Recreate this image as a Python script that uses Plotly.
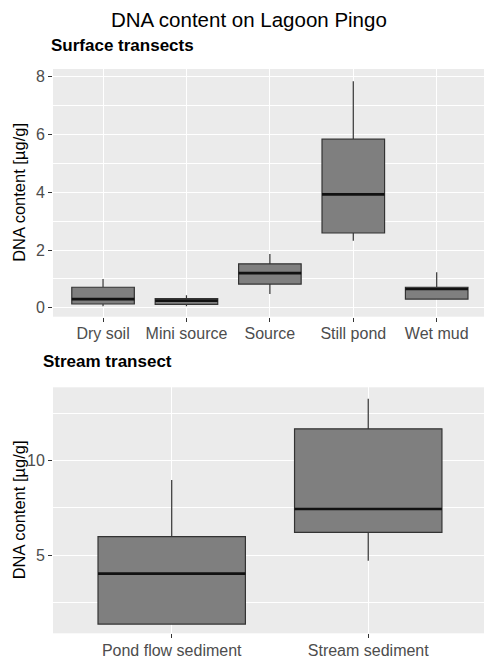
import plotly.graph_objects as go

# ---- data ----
surface_cats = ["Dry soil", "Mini source", "Source", "Still pond", "Wet mud"]
surface_lower = [0.05, 0.05, 0.48, 2.32, 0.30]
surface_q1 = [0.13, 0.12, 0.82, 2.59, 0.30]
surface_median = [0.30, 0.25, 1.20, 3.93, 0.65]
surface_q3 = [0.71, 0.32, 1.52, 5.84, 0.71]
surface_upper = [1.00, 0.43, 1.86, 7.85, 1.23]

stream_cats = ["Pond flow sediment", "Stream sediment"]
stream_lower = [1.34, 4.70]
stream_q1 = [1.34, 6.20]
stream_median = [4.01, 7.44]
stream_q3 = [5.97, 11.69]
stream_upper = [8.97, 13.28]

top_ticks = [0, 2, 4, 6, 8]
bottom_ticks = [5, 10]

W, H = 484, 659
BOXW = 0.75
FILL = "#7F7F7F"
EDGE = "#333333"
FONT = "Liberation Sans, Arial, sans-serif"

fig = go.Figure()

def add_panel(cats, lo, q1, med, q3, up, xa, ya):
    xs = list(range(len(cats)))
    fig.add_trace(go.Box(
        x=xs, q1=q1, median=med, q3=q3, lowerfence=lo, upperfence=up,
        width=BOXW, whiskerwidth=0, boxpoints=False,
        fillcolor=FILL, line=dict(color=EDGE, width=1.2),
        xaxis=xa, yaxis=ya, showlegend=False, hoverinfo="skip"))
    for i, m in enumerate(med):
        fig.add_trace(go.Scatter(
            x=[i - BOXW / 2, i + BOXW / 2], y=[m, m], mode="lines",
            line=dict(color="#111111", width=2.7),
            xaxis=xa, yaxis=ya, showlegend=False, hoverinfo="skip"))

add_panel(surface_cats, surface_lower, surface_q1, surface_median,
          surface_q3, surface_upper, "x", "y")
add_panel(stream_cats, stream_lower, stream_q1, stream_median,
          stream_q3, stream_upper, "x2", "y2")

xdom = [53 / W, 1.0]
top_dom = [1 - 316.7 / H, 1 - 69 / H]
bot_dom = [1 - 633.3 / H, 1 - 387.3 / H]

axis_common = dict(
    showgrid=True, gridcolor="white", gridwidth=1.07,
    zeroline=False, showline=False,
    ticks="outside", ticklen=4, tickcolor=EDGE, tickwidth=1.07,
    tickfont=dict(family=FONT, size=16, color="#4D4D4D"),
)

fig.update_layout(
    width=W, height=H,
    margin=dict(l=0, r=0, t=0, b=0),
    paper_bgcolor="white", plot_bgcolor="#EBEBEB",
    xaxis=dict(domain=xdom, anchor="y", range=[-0.6, 4.567],
               tickmode="array", tickvals=list(range(len(surface_cats))),
               ticktext=surface_cats, ticklabelstandoff=-2, **axis_common),
    yaxis=dict(domain=top_dom, anchor="x", range=[-0.31, 8.27],
               tickmode="array", tickvals=top_ticks,
               ticktext=[str(t) for t in top_ticks],
               minor=dict(dtick=1, tick0=0, showgrid=True, gridcolor="white",
                          gridwidth=0.55, ticks=""),
               **axis_common),
    xaxis2=dict(domain=xdom, anchor="y2", range=[-0.604, 1.589],
                tickmode="array", tickvals=list(range(len(stream_cats))),
                ticktext=stream_cats, ticklabelstandoff=-2, **axis_common),
    yaxis2=dict(domain=bot_dom, anchor="x2", range=[0.85, 13.89],
                tickmode="array", tickvals=bottom_ticks,
                ticktext=[str(t) for t in bottom_ticks],
                minor=dict(dtick=2.5, tick0=0, showgrid=True, gridcolor="white",
                           gridwidth=0.55, ticks=""),
                **axis_common),
)

ann = [
    dict(text="DNA content on Lagoon Pingo", x=249 / W, y=1 - 20 / H,
         xanchor="center", yanchor="middle",
         font=dict(family=FONT, size=20.5, color="black")),
    dict(text="<b>Surface transects</b>", x=48.5 / W, y=1 - 45.5 / H,
         xanchor="left", yanchor="middle",
         font=dict(family=FONT, size=17, color="black")),
    dict(text="<b>Stream transect</b>", x=41 / W, y=1 - 362 / H,
         xanchor="left", yanchor="middle",
         font=dict(family=FONT, size=17, color="black")),
    dict(text="DNA content [µg/g]", x=19 / W, y=(top_dom[0] + top_dom[1]) / 2,
         xanchor="center", yanchor="middle", textangle=-90,
         font=dict(family=FONT, size=16.5, color="black")),
    dict(text="DNA content [µg/g]", x=19 / W, y=(bot_dom[0] + bot_dom[1]) / 2,
         xanchor="center", yanchor="middle", textangle=-90,
         font=dict(family=FONT, size=16.5, color="black")),
]
for a in ann:
    a.update(xref="paper", yref="paper", showarrow=False)
fig.update_layout(annotations=ann)

fig.write_html("out.html")
